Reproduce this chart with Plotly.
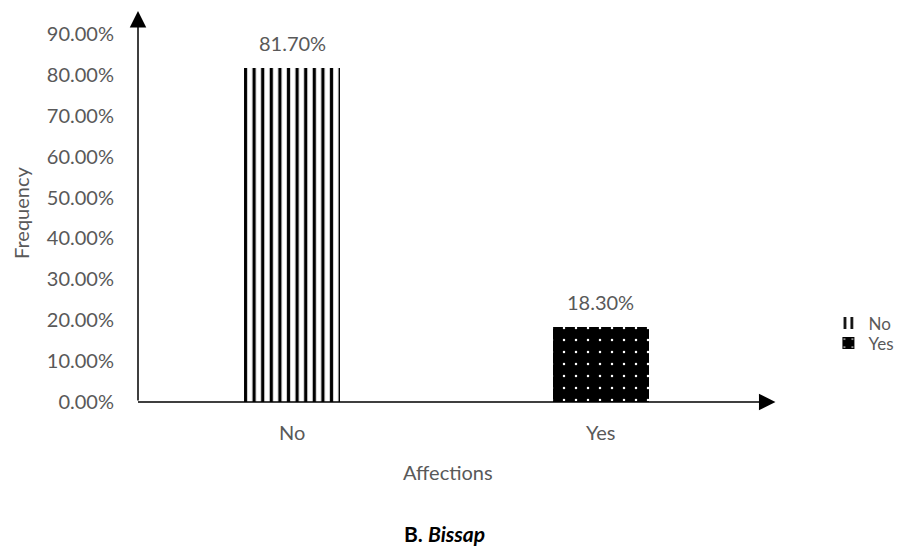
import plotly.graph_objects as go

categories = ["No", "Yes"]
values = [0.817, 0.183]
value_labels = ["81.70%", "18.30%"]
tick_vals = [0, 0.1, 0.2, 0.3, 0.4, 0.5, 0.6, 0.7, 0.8, 0.9]
tick_text = ["0.00%", "10.00%", "20.00%", "30.00%", "40.00%", "50.00%", "60.00%", "70.00%", "80.00%", "90.00%"]

FONT = "Lato"
GRAY = "#595959"
FS = 20

fig = go.Figure()
fig.add_trace(go.Bar(
    x=[categories[0]], y=[values[0]], name="No", width=0.31, legend="legend", showlegend=True,
    marker=dict(color="white", line=dict(width=0),
                pattern=dict(shape="|", fgcolor="black", bgcolor="white", size=8.6, solidity=0.38, fillmode="replace")),
))
fig.add_trace(go.Bar(
    x=[categories[1]], y=[values[1]], name="Yes", width=0.31, legend="legend2", showlegend=True,
    marker=dict(color="black", line=dict(width=0),
                pattern=dict(shape=".", fgcolor="white", bgcolor="black", size=12, solidity=0.035, fillmode="replace")),
))

for c, v, t in zip(categories, values, value_labels):
    fig.add_annotation(x=c, y=v, text=t, showarrow=False, yanchor="bottom", yshift=11,
                       font=dict(family=FONT, size=FS, color=GRAY))

leg_common = dict(xanchor="left", yanchor="middle", font=dict(size=17, color=GRAY),
                  bgcolor="rgba(0,0,0,0)", itemwidth=30)

fig.update_layout(
    width=899, height=549,
    margin=dict(l=137.5, r=143.5, t=34, b=147, autoexpand=False),
    paper_bgcolor="white", plot_bgcolor="white",
    barmode="overlay", showlegend=True,
    font=dict(family=FONT, size=FS, color=GRAY),
    xaxis=dict(range=[-0.5, 1.5], showgrid=False, showline=False, zeroline=False, automargin=False,
               ticks="", ticklabelstandoff=17, tickfont=dict(size=FS, color=GRAY)),
    yaxis=dict(range=[0, 0.9], showgrid=False, showline=False, zeroline=False, automargin=False,
               tickvals=tick_vals, ticktext=tick_text, ticks="", ticklabelstandoff=23,
               tickfont=dict(size=FS, color=GRAY)),
    legend=dict(x=1.119, y=(402 - 323.5) / 368, **leg_common),
    legend2=dict(x=1.119, y=(402 - 343.5) / 368, **leg_common),
    bargap=0.0,
)

# axis titles
fig.add_annotation(x=0.5, y=0, xref="paper", yref="paper", yanchor="middle", yshift=-70, xshift=1,
                   text="Affections", showarrow=False, font=dict(family=FONT, size=FS, color=GRAY))
fig.add_annotation(x=0, y=0.5, xref="paper", yref="paper", xanchor="center", xshift=-117, yshift=5,
                   text="Frequency", textangle=-90, showarrow=False, font=dict(family=FONT, size=FS, color=GRAY))

# axis arrows
fig.add_annotation(x=0, y=(402 - 11) / 368, xref="paper", yref="paper", ax=0, ay=391,
                   showarrow=True, arrowhead=2, arrowsize=2.2, arrowwidth=1.5, arrowcolor="black", text="")
fig.add_annotation(x=(776 - 137.5) / 618, y=0, xref="paper", yref="paper", ax=-639, ay=0,
                   showarrow=True, arrowhead=2, arrowsize=2.2, arrowwidth=1.5, arrowcolor="black", text="")

fig.add_annotation(x=0.5, y=0, xref="paper", yref="paper", yanchor="middle", yshift=-131, xshift=-2,
                   text="<b>B. <i>Bissap</i></b>", showarrow=False,
                   font=dict(family=FONT, size=21, color="black"))

fig.write_html("out.html", config={"displayModeBar": False},
               post_script="document.body.style.margin='0';")
